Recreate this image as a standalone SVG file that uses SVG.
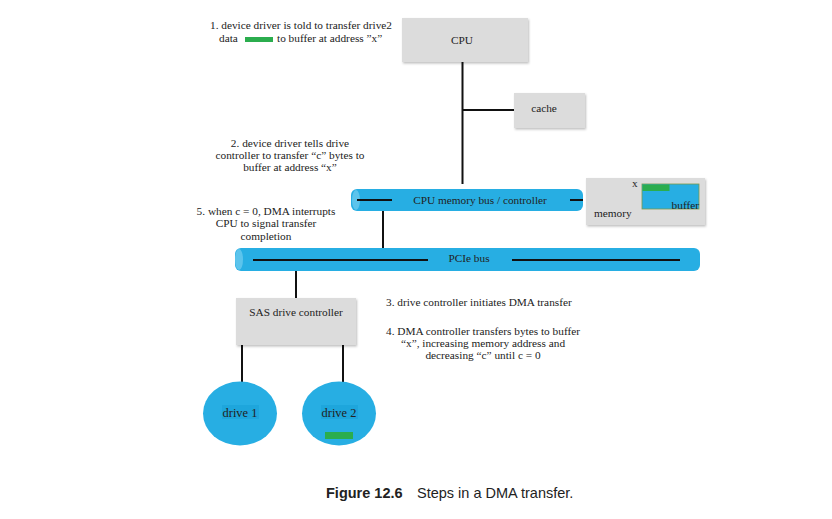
<svg xmlns="http://www.w3.org/2000/svg" width="832" height="519" viewBox="0 0 832 519">
<style>
.t{font-family:"Liberation Serif","DejaVu Serif",serif;font-size:11.3px;fill:#222}
.l{font-size:12.4px}
.c{text-anchor:middle}
.box{fill:#dcdcdc;filter:url(#sh)}
.bus{fill:#27aee3}
.end{fill:#5cc4ec}
.w{stroke:#111;stroke-width:2;fill:none}
.g{fill:#2bad4e}
.cap{font-family:"Liberation Sans",Arial,sans-serif;font-size:14.5px;fill:#222}
</style>
<defs>
<filter id="sh" x="-10%" y="-10%" width="130%" height="130%">
<feDropShadow dx="1" dy="1.5" stdDeviation="1" flood-color="#000" flood-opacity="0.25"/>
</filter>
</defs>
<rect width="832" height="519" fill="#fff"/>

<g id="connectors">
<path class="w" d="M462.5 62V184M462.5 110H514"/>
<path class="w" d="M383 200V262"/>
<path class="w" d="M296 260V298"/>
<path class="w" d="M242 345V382M343 345V382"/>
</g>

<g id="cpu">
<rect class="box" x="402" y="18" width="126" height="44"/>
<text class="t c" x="462" y="44">CPU</text>
</g>
<g id="cache">
<rect class="box" x="514" y="93" width="71" height="35"/>
<text class="t c" x="544" y="112">cache</text>
</g>
<g id="membus">
<rect class="bus" x="351" y="189" width="232" height="22" rx="6"/>
<ellipse class="end" cx="356" cy="200" rx="4" ry="10"/>
<path class="w" d="M357 200H392M570 200H583"/>
<text class="t c" x="480" y="204">CPU memory bus / controller</text>
</g>
<g id="memory">
<rect class="box" x="586" y="178" width="119" height="47"/>
<rect x="642" y="184" width="57" height="25" fill="#27aee3" stroke="#7a9a4a" stroke-width="0.8"/>
<rect class="g" x="642.5" y="184.5" width="27" height="6.5"/>
<text class="t" x="632" y="187">x</text>
<text class="t" x="699" y="209" text-anchor="end">buffer</text>
<text class="t" x="594" y="217">memory</text>
</g>
<g id="pcie">
<rect class="bus" x="235" y="248" width="465" height="23" rx="6"/>
<ellipse class="end" cx="239" cy="259.5" rx="4" ry="10.5"/>
<path class="w" d="M253 260H428M512 260H680"/>
<text class="t c" x="469" y="262">PCIe bus</text>
</g>
<g id="sas">
<rect class="box" x="236" y="298" width="120" height="47"/>
<text class="t c" x="296" y="316">SAS drive controller</text>
</g>
<g id="drive1">
<ellipse class="bus" cx="240" cy="413.5" rx="37" ry="32"/>
<rect x="222" y="405" width="37" height="14" fill="#1ea6dc"/>
<text class="t l c" x="240" y="417">drive 1</text>
</g>
<g id="drive2">
<ellipse class="bus" cx="339" cy="413.5" rx="37" ry="32"/>
<rect x="321" y="405" width="37" height="14" fill="#1ea6dc"/>
<text class="t l c" x="339" y="417">drive 2</text>
<rect class="g" x="325" y="432" width="28" height="7"/>
</g>

<g id="notes">
<text class="t" x="210" y="29">1. device driver is told to transfer drive2</text>
<text class="t" x="219" y="42">data</text>
<rect class="g" x="245" y="37" width="28" height="5"/>
<text class="t" x="277" y="42">to buffer at address ”x”</text>
<text class="t c" x="290" y="147">2. device driver tells drive</text>
<text class="t c" x="290" y="159">controller to transfer “c” bytes to</text>
<text class="t c" x="290" y="171">buffer at address “x”</text>
<text class="t c" x="266" y="215">5. when c = 0, DMA interrupts</text>
<text class="t c" x="266" y="227">CPU to signal transfer</text>
<text class="t c" x="266" y="240">completion</text>
<text class="t" x="386" y="306">3. drive controller initiates DMA transfer</text>
<text class="t c" x="483" y="335">4. DMA controller transfers bytes to buffer</text>
<text class="t c" x="483" y="347">“x”, increasing memory address and</text>
<text class="t c" x="483" y="359">decreasing  “c” until c = 0</text>
</g>

<text class="cap" x="326" y="498"><tspan font-weight="bold">Figure 12.6</tspan><tspan x="417">Steps in a DMA transfer.</tspan></text>
</svg>
